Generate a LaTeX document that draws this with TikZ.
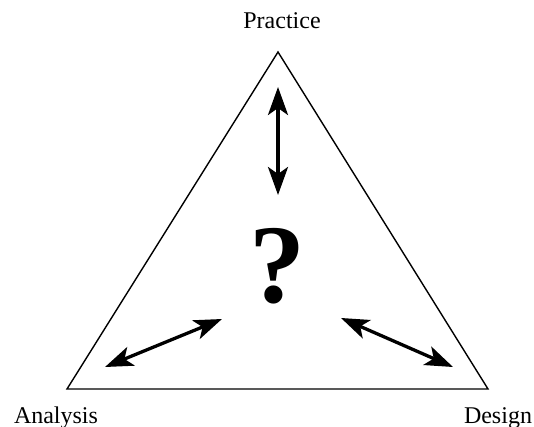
\documentclass[tikz,border=0pt]{standalone}
\usepackage{fontspec}
\setmainfont{Liberation Serif}
\usetikzlibrary{arrows.meta}
\begin{document}
\begin{tikzpicture}[x=1pt,y=-1pt,
  lbl/.style={font=\fontsize{24}{28}\selectfont, inner sep=0pt, anchor=base},
  dbl/.style={line width=3.3pt, {Stealth[length=28pt,width=20pt,inset=7pt]}-{Stealth[length=28pt,width=20pt,inset=7pt]}},
  tri/.style={line width=1.4pt, line join=miter}]
\useasboundingbox (0,0) rectangle (534,427);
\coordinate (P) at (278,52);
\coordinate (A) at (67,389);
\coordinate (D) at (488,389);
\draw[tri] (P) -- (A) -- (D) -- cycle;
\node[lbl] (lp) at (282,29) {Practice};
\node[lbl] (la) at (56,423) {Analysis};
\node[lbl] (ld) at (498,423) {Design};
\node[inner sep=0pt, font=\fontsize{112}{120}\selectfont\bfseries, anchor=base] (q) at (277,302) {?};
\coordinate (v1) at (278,87);
\coordinate (v2) at (278,195);
\coordinate (l1) at (105,367);
\coordinate (l2) at (222,319);
\coordinate (r1) at (341,318);
\coordinate (r2) at (453,367);
\draw[dbl] (v1) -- (v2);
\draw[dbl] (l1) -- (l2);
\draw[dbl] (r1) -- (r2);
\end{tikzpicture}
\end{document}
